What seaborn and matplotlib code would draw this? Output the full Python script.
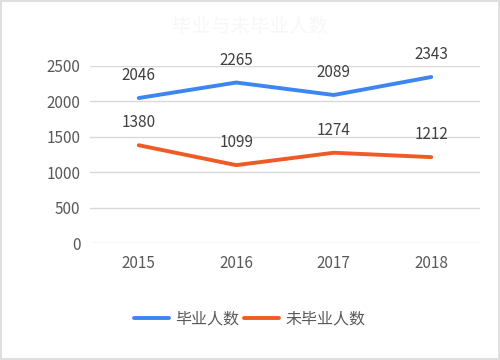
import pandas as pd
import matplotlib.pyplot as plt
import seaborn as sns

years = ["2015", "2016", "2017", "2018"]
graduated = [2046, 2265, 2089, 2343]
not_graduated = [1380, 1099, 1274, 1212]
series_names = ["毕业人数", "未毕业人数"]
colors = ["#3d85f0", "#ef5b25"]

df = pd.DataFrame({
    "year": years * 2,
    "value": graduated + not_graduated,
    "series": [series_names[0]] * 4 + [series_names[1]] * 4,
})

sns.set_style("white")
plt.rcParams['font.family'] = ['Noto Sans CJK SC', 'DejaVu Sans']

fig = plt.figure(figsize=(5, 3.6), dpi=100)
ax = fig.add_axes([0.18, 0.325, 0.78, 0.492])

sns.lineplot(data=df, x="year", y="value", hue="series", palette=colors,
             linewidth=2.8, ax=ax, sort=False)

for name, vals in zip(series_names, [graduated, not_graduated]):
    for i, v in enumerate(vals):
        ax.annotate(str(v), (i, v), xytext=(0, 10), textcoords="offset points",
                    ha="center", va="bottom", fontsize=11, color="#404040",
                    annotation_clip=False)

ax.set_xlim(-0.5, 3.5)
ax.set_ylim(0, 2500)
ax.set_yticks([0, 500, 1000, 1500, 2000, 2500])
ax.yaxis.grid(True, color="#d9d9d9", linewidth=1)
ax.set_axisbelow(True)
for s in ax.spines.values():
    s.set_visible(False)
ax.set_xlabel("")
ax.set_ylabel("")
ax.tick_params(axis="both", length=0, labelsize=11, colors="#595959")
ax.tick_params(axis="y", pad=7)
ax.tick_params(axis="x", pad=9)

leg = ax.legend(loc="center", bbox_to_anchor=(0.41, -0.43), ncol=2, frameon=False,
                fontsize=11.5, handlelength=2.2, columnspacing=0.3, handletextpad=0.4)
for t in leg.get_texts():
    t.set_color("#595959")

fig.text(0.5, 0.925, "毕业与未毕业人数", ha="center", va="center",
         fontsize=14, color="#f7f7f7")

fig.patches.append(plt.Rectangle((0.002, 0.003), 0.996, 0.994, transform=fig.transFigure,
                                 fill=False, edgecolor="#d9d9d9", linewidth=1.2))

fig.savefig("out.png", dpi=100)
